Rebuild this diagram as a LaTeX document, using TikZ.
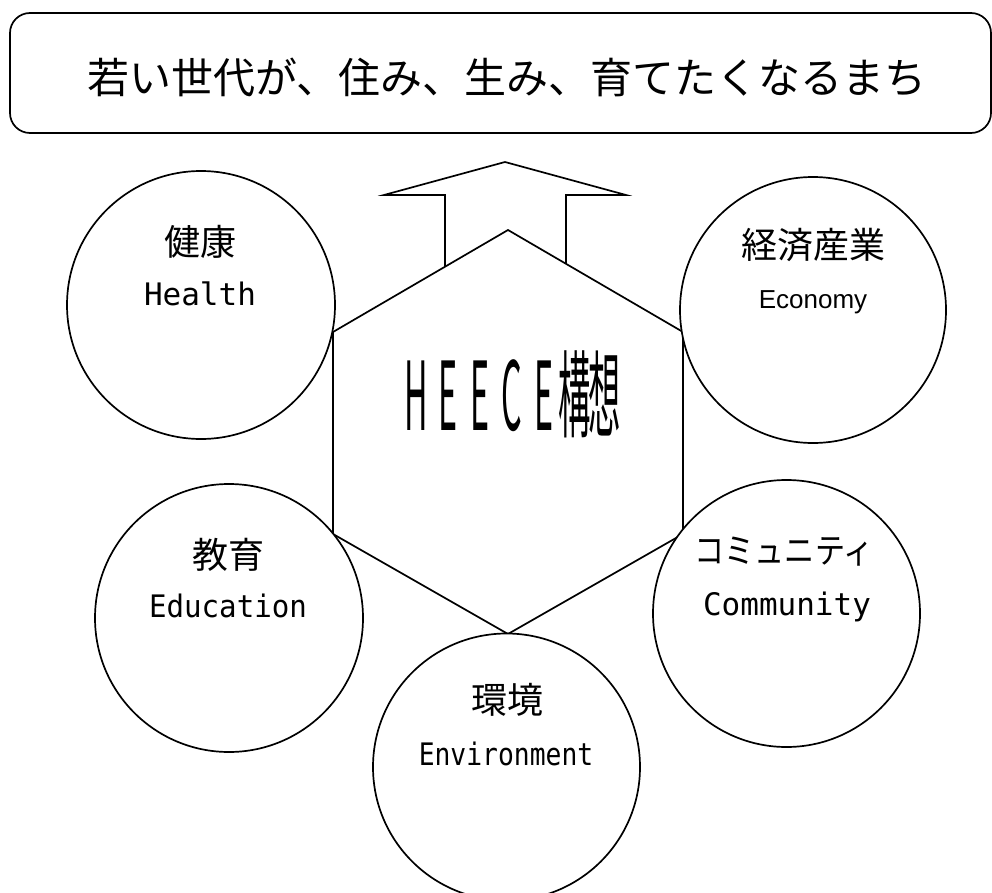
\documentclass[tikz,border=0pt]{standalone}
\usepackage{fontspec}
\usepackage{graphicx}
\setmainfont{Noto Sans CJK JP}
\newfontfamily\jpfont{Noto Sans CJK JP}
\newfontfamily\monofont{DejaVu Sans Mono}
\newfontfamily\lsfont{Liberation Sans}
\begin{document}
\begin{tikzpicture}[x=1pt,y=-1pt,line width=1.7pt,
  ring/.style={circle,draw,fill=white,inner sep=0pt,minimum size=#1},
  jplabel/.style={font=\jpfont\fontsize{36}{36}\selectfont,inner sep=0pt},
  enlabel/.style={font=\monofont\fontsize{31}{31}\selectfont,inner sep=0pt,anchor=base},
  outline/.style={draw,fill=white,line join=miter}]
\useasboundingbox (0,0) rectangle (992,893);
\clip (0,0) rectangle (992,893);

% title
\node[draw,rounded corners=20pt,minimum width=981pt,minimum height=120pt,inner sep=0pt] (title) at (500.5,73) {};
\node[font=\jpfont\fontsize{42}{42}\selectfont,inner sep=0pt] (titletext) at (507,77) {若い世代が、住み、生み、育てたくなるまち};

% upward arrow
\draw[outline] (505,162) -- (626,195) -- (566,195) -- (566,300) -- (445,300) -- (445,195) -- (384,195) -- cycle;

% hexagon
\draw[outline] (508,230) -- (683,332) -- (683,534) -- (508,634) -- (333,534) -- (333,332) -- cycle;

% centre text
\node[anchor=base,inner sep=0pt] (heece) at (510,430) {\scalebox{0.34}[1]{\jpfont\fontsize{95}{95}\selectfont\makebox[94pt]{H}\makebox[94pt]{E}\makebox[94pt]{E}\makebox[94pt]{C}\makebox[94pt]{E}\makebox[88pt]{構}\makebox[88pt]{想}}};

% circles
\node[ring=268pt] (health) at (201,305) {};
\node[ring=266pt] (economy) at (813,310) {};
\node[ring=268pt] (education) at (229,618) {};
\node[ring=267pt] (community) at (786.5,613.5) {};
\node[ring=267pt] (environment) at (506.5,767) {};

% labels
\node[jplabel] (healthjp) at (200,242) {健康};
\node[enlabel] (healthen) at (200,305) {Health};
\node[jplabel] (economyjp) at (813,245) {経済産業};
\node[font=\lsfont\fontsize{26}{26}\selectfont,inner sep=0pt,anchor=base] (economyen) at (813,308) {Economy};
\node[jplabel] (educationjp) at (228,555) {教育};
\node[enlabel] (educationen) at (228,617) {\scalebox{0.94}[1]{Education}};
\node[jplabel,font=\jpfont\fontsize{35}{35}\selectfont] (communityjp) at (784,552) {\scalebox{0.86}[1]{コミュニティ}};
\node[enlabel] (communityen) at (787,615) {Community};
\node[jplabel] (environmentjp) at (507,700) {環境};
\node[enlabel] (environmenten) at (506,765) {\scalebox{0.85}[1]{Environment}};
\end{tikzpicture}
\end{document}
